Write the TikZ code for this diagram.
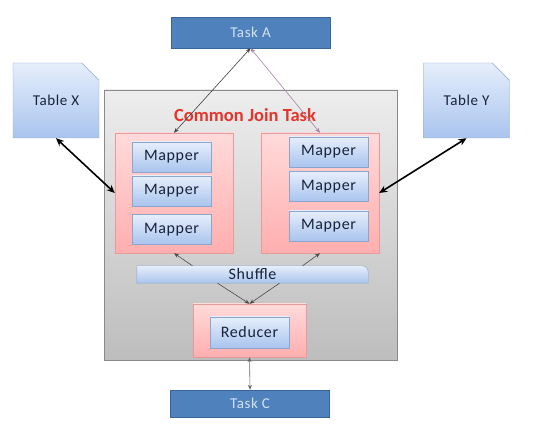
\documentclass[tikz,border=0pt]{standalone}
\usepackage{fontspec}
\setmainfont{Carlito}
\newfontfamily\boxfont[LetterSpace=4]{Carlito}
\usetikzlibrary{shapes.misc,arrows.meta,shadows}

\definecolor{taskfill}{HTML}{4F81BD}
\definecolor{taskline}{HTML}{3A6597}
\definecolor{tasktext}{HTML}{D2E2F5}
\definecolor{bluetop}{HTML}{E6EEFB}
\definecolor{bluebot}{HTML}{A9C4EE}
\definecolor{blueline}{HTML}{8CA5CC}
\definecolor{bluetext}{HTML}{18233A}
\definecolor{pinktop}{HTML}{FFDADA}
\definecolor{pinkbot}{HTML}{FFAEAE}
\definecolor{pinkline}{HTML}{E89A9A}
\definecolor{greytop}{HTML}{EDEDED}
\definecolor{greybot}{HTML}{BDBDBD}
\definecolor{greyline}{HTML}{8A8A8A}
\definecolor{titlered}{HTML}{E5352B}

\begin{document}
\begin{tikzpicture}[x=1pt,y=-1pt,
    task/.style={rectangle,draw=taskline,fill=taskfill,text=tasktext,inner sep=0pt,
      minimum width=159pt,font=\boxfont\fontsize{15}{15}\selectfont},
    table/.style={chamfered rectangle,chamfered rectangle corners=north east,
      chamfered rectangle xsep=12pt,chamfered rectangle ysep=12pt,draw=blueline,
      top color=bluetop,bottom color=bluebot,text=bluetext,inner sep=0pt,
      minimum width=86pt,minimum height=75pt,font=\boxfont\fontsize{15}{15}\selectfont},
    group/.style={rectangle,draw=pinkline,top color=pinktop,bottom color=pinkbot,inner sep=0pt,
      drop shadow={opacity=0.25,shadow xshift=1pt,shadow yshift=-1pt}},
    job/.style={rectangle,draw=blueline,top color=bluetop,bottom color=bluebot,text=bluetext,
      inner sep=0pt,minimum width=79pt,minimum height=30pt,font=\boxfont\fontsize{16}{16}\selectfont,
      drop shadow={opacity=0.3,shadow xshift=1pt,shadow yshift=-1pt}},
    link/.style={-{Stealth[length=5pt,width=4pt]},line width=0.6pt,draw=black!70},
    both/.style={{Stealth[length=5pt,width=4pt]}-{Stealth[length=5pt,width=4pt]},line width=0.6pt},
    thick link/.style={{Stealth[length=8pt,width=7pt]}-{Stealth[length=8pt,width=7pt]},line width=1.6pt}]

  \useasboundingbox (0,0) rectangle (535,427);

  % outer task
  \node[rectangle,draw=greyline,top color=greytop,bottom color=greybot,
    minimum width=293pt,minimum height=270pt,inner sep=0pt] (join) at (250.5,225) {};
  \node[text=titlered,font=\fontsize{18.5}{18.5}\selectfont\bfseries] (title) at (245,115) {Common Join Task};

  \begin{scope}[every node/.style={task}]
    \node[minimum height=31pt] (taskA) at (250.5,32.5) {Task A};
    \node[minimum height=27pt] (taskC) at (250,403.5) {Task C};
  \end{scope}

  \begin{scope}[every node/.style={table}]
    \node (tableX) at (56,100.5)  {Table X};
    \node (tableY) at (466.5,100.5) {Table Y};
  \end{scope}

  \begin{scope}[every node/.style={group}]
    \node[minimum width=118pt,minimum height=120pt] (mapsL) at (174,193) {};
    \node[minimum width=118pt,minimum height=120pt] (mapsR) at (320,193) {};
    \node[minimum width=113pt,minimum height=53pt] (reds) at (249.5,330.5) {};
  \end{scope}

  \begin{scope}[every node/.style={job}]
    \node (mapL1) at (171.5,157)   {Mapper};
    \node (mapL2) at (171.5,191)   {Mapper};
    \node (mapL3) at (171.5,229.5) {Mapper};
    \node (mapR1) at (328.5,152)   {Mapper};
    \node (mapR2) at (328.5,186.5) {Mapper};
    \node (mapR3) at (328.5,226)   {Mapper};
    \node[minimum height=31pt] (reducer) at (249.5,332.5) {Reducer};
  \end{scope}

  % shuffle bar, top right corner rounded
  \node[inner sep=0pt,minimum width=231pt,minimum height=17pt] (shuffle) at (252.5,274.5) {};
  \shade[draw=blueline,top color=bluetop,bottom color=bluebot]
    (shuffle.south west) -- (shuffle.north west) -- ([xshift=-6pt]shuffle.north east)
    to[out=0,in=90] ([yshift=-6pt]shuffle.north east) -- (shuffle.south east) -- cycle;
  \node[text=bluetext,font=\boxfont\fontsize{16}{16}\selectfont] at (shuffle) {Shuffle};

  \path (taskA.south) edge[both,draw=black!75] (mapsL.north);
  \path (taskA.south) edge[both,draw=violet!40!gray!70] (mapsR.north);
  \path (tableX.south) edge[thick link] (mapsL.west);
  \path (tableY.south) edge[thick link] (mapsR.east);
  \path ([xshift=-60pt]shuffle.north) edge[link] (mapsL.south);
  \path ([xshift=50pt]shuffle.north) edge[link] (mapsR.south);
  \path ([xshift=-35pt]shuffle.south) edge[link] (reds.north);
  \path ([xshift=27pt]shuffle.south) edge[link] (reds.north);
  \path (reds.south) edge[both,draw=black!60] (taskC.north);

\end{tikzpicture}
\end{document}
